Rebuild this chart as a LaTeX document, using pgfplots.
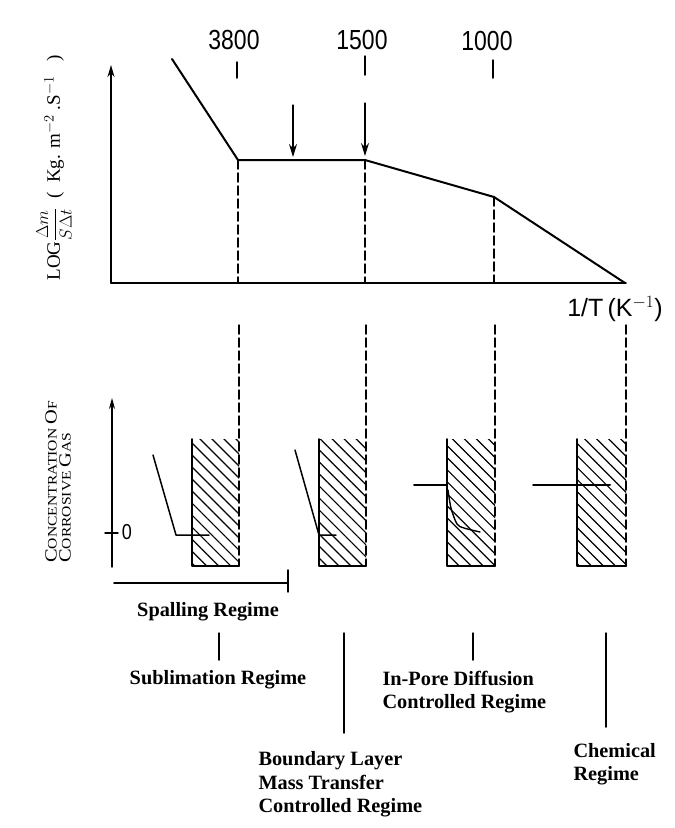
\documentclass[border=0pt]{standalone}
\usepackage{pgfplots}
\pgfplotsset{compat=1.18}
\usepackage{fontspec}
\setmainfont{Liberation Serif}
\newfontfamily\sansf{Liberation Sans}
\usetikzlibrary{arrows.meta,patterns.meta}
\newcommand\fs[1]{\fontsize{#1}{#1}\selectfont}
\begin{document}
\begin{tikzpicture}
\begin{axis}[hide axis, scale only axis, width=675pt, height=828pt,
  xmin=0, xmax=675, ymin=0, ymax=828, y dir=reverse, clip=false,
  every axis plot/.append style={line cap=round, line join=round}]
% invisible frame
\addplot[draw=none] coordinates {(0,0)(675,828)};
% ---------- top graph ----------
\addplot[line width=1.6pt, -{Stealth[length=12pt,width=7pt]}] coordinates {(111,283)(111,65)};
\addplot[line width=1.8pt] coordinates {(111,283)(626,283)};
\addplot[line width=2pt] coordinates {(172,59)(238,160)(365,160)(494,197)(625,283)};
\addplot[line width=1.5pt, dash pattern=on 9pt off 4pt] coordinates {(238,160)(238,283)};
\addplot[line width=1.5pt, dash pattern=on 9pt off 4pt] coordinates {(365,160)(365,283)};
\addplot[line width=1.5pt, dash pattern=on 9pt off 4pt] coordinates {(494,197)(494,283)};
% ticks at the top
\addplot[line width=1.5pt] coordinates {(237,62)(237,78)};
\addplot[line width=1.5pt] coordinates {(365,56)(365,75)};
\addplot[line width=1.5pt] coordinates {(493,60)(493,78)};
\node[font=\sansf\fs{23}] at (axis cs:234,40) {\scalebox{1}[1.2]{3800}};
\node[font=\sansf\fs{23}] at (axis cs:362,40) {\scalebox{1}[1.2]{1500}};
\node[font=\sansf\fs{23}] at (axis cs:487,41) {\scalebox{1}[1.2]{1000}};
% arrows
\addplot[line width=1.3pt, -{Stealth[length=13pt,width=8pt]}] coordinates {(293,105)(293,157)};
\addplot[line width=1.3pt, -{Stealth[length=13pt,width=8pt]}] coordinates {(365,103)(365,156)};
\node[font=\sansf\fs{25}] at (axis cs:615,309) {1/T\,(K$^{-1}$)};
\node[rotate=90, font=\fs{19}] at (axis cs:54,168)
  {LOG$\displaystyle\frac{\Delta m}{S\Delta t}$\ \ (\ \ Kg. m$^{-2}$ .S$^{-1}$\ \ \ )};
% ---------- lower graph ----------
\addplot[line width=1.5pt, dash pattern=on 9pt off 4pt] coordinates {(239,325)(239,566)};
\addplot[line width=1.5pt, dash pattern=on 9pt off 4pt] coordinates {(366,325)(366,566)};
\addplot[line width=1.5pt, dash pattern=on 9pt off 4pt] coordinates {(495,325)(495,566)};
\addplot[line width=1.5pt, dash pattern=on 9pt off 4pt] coordinates {(626,325)(626,566)};
% hatched boxes
\addplot[draw=none, pattern={Lines[angle=-45,distance=8.5pt,line width=1.2pt]}] coordinates {(192,439)(239,439)(239,566)(192,566)(192,439)};
\addplot[draw=none, pattern={Lines[angle=-45,distance=8.5pt,line width=1.2pt]}] coordinates {(319,439)(366,439)(366,566)(319,566)(319,439)};
\addplot[draw=none, pattern={Lines[angle=-45,distance=8.5pt,line width=1.2pt]}] coordinates {(447,439)(495,439)(495,566)(447,566)(447,439)};
\addplot[draw=none, pattern={Lines[angle=-45,distance=8.5pt,line width=1.2pt]}] coordinates {(577,439)(626,439)(626,566)(577,566)(577,439)};
\addplot[line width=1.6pt] coordinates {(192,439)(192,566)(239,566)};
\addplot[line width=1.6pt] coordinates {(319,439)(319,566)(366,566)};
\addplot[line width=1.6pt] coordinates {(447,439)(447,566)(495,566)};
\addplot[line width=1.6pt] coordinates {(577,439)(577,566)(626,566)};
% lower y axis
\addplot[line width=1.4pt, -{Stealth[length=11pt,width=6pt]}] coordinates {(112,567)(112,398)};
\addplot[line width=1.4pt] coordinates {(105,533)(118,533)};
\node[font=\sansf\fs{18}] at (axis cs:127,532) {\scalebox{1}[1.2]{0}};
% concentration profiles
\addplot[line width=1.5pt] coordinates {(153,455)(176,535)(209,535)};
\addplot[line width=1.5pt] coordinates {(295,450)(319,535)(336,535)};
\addplot[line width=2pt] coordinates {(414,485)(447,485)};
\addplot[line width=1.4pt, smooth] coordinates {(448,490)(451,508)(457,524)(464,528)(480,532)};
\addplot[line width=2pt] coordinates {(533,485)(610,485)};
\node[rotate=90, align=left] at (axis cs:58,482)
  {\scalebox{1.2}[1]{{\fs{17}C}{\fs{13}ONCENTRATION }{\fs{17}O}{\fs{13}F}}\\[2pt]
   \scalebox{1.2}[1]{{\fs{17}C}{\fs{13}ORROSIVE }{\fs{17}G}{\fs{13}AS}}};
% spalling bar
\addplot[line width=1.8pt] coordinates {(114,583)(288,583)};
\addplot[line width=1.4pt] coordinates {(288,570)(288,592)};
% regime labels
\node[font=\bfseries\fs{20.3}] at (axis cs:208,612) {Spalling Regime};
\addplot[line width=1.5pt] coordinates {(219,633)(219,660)};
\node[font=\bfseries\fs{20.3}] at (axis cs:218,680) {Sublimation Regime};
\addplot[line width=1.5pt] coordinates {(344,633)(344,733)};
\node[font=\bfseries\fs{20.3}, anchor=base west] at (axis cs:255,765) {Boundary Layer};
\node[font=\bfseries\fs{20.3}, anchor=base west] at (axis cs:255,789) {Mass Transfer};
\node[font=\bfseries\fs{20.3}, anchor=base west] at (axis cs:255,812) {Controlled Regime};
\addplot[line width=1.5pt] coordinates {(473,633)(473,660)};
\node[font=\bfseries\fs{20.3}, anchor=base west] at (axis cs:379,685) {In-Pore Diffusion};
\node[font=\bfseries\fs{20.3}, anchor=base west] at (axis cs:379,708) {Controlled Regime};
\addplot[line width=1.5pt] coordinates {(606,633)(606,727)};
\node[font=\bfseries\fs{20.3}, anchor=base west] at (axis cs:570,757) {Chemical};
\node[font=\bfseries\fs{20.3}, anchor=base west] at (axis cs:570,780) {Regime};
\end{axis}
\end{tikzpicture}
\end{document}
